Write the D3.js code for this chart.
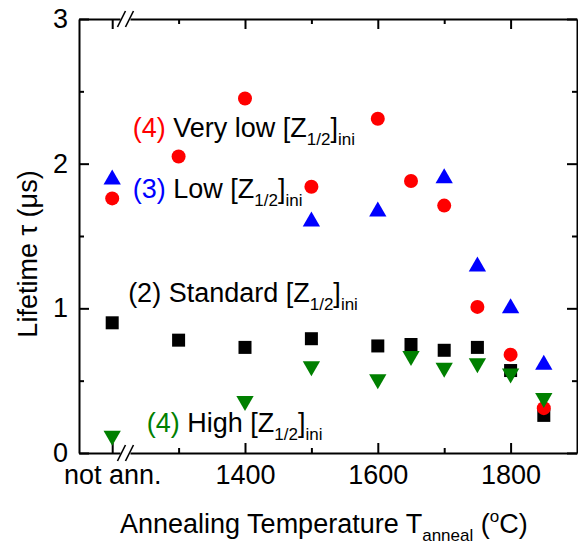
<!DOCTYPE html>
<html>
<head>
<meta charset="utf-8">
<script src="https://cdn.jsdelivr.net/npm/d3@7"></script>
<style>
  body { margin: 0; background: #fff; }
  svg { display: block; font-family: Arial, "Liberation Sans", sans-serif; }
</style>
</head>
<body>
<script>
// annealing temperatures, 1200 stands for the "not annealed" reference
const temps = [1200, 1300, 1400, 1500, 1600, 1650, 1700, 1750, 1800, 1850];

const standard = [0.90, 0.78, 0.73, 0.79, 0.74, 0.75, 0.71, 0.73, 0.57, 0.26];
const high = [0.12, null, 0.36, 0.60, 0.51, 0.67, 0.59, 0.62, 0.55, 0.38];
const veryLow = [1.76, 2.05, 2.45, 1.84, 2.31, 1.88, 1.71, 1.01, 0.68, 0.31];
const low = [1.89, null, null, 1.60, 1.67, null, 1.90, 1.29, 1.00, 0.61];

const xMajor = [1200, 1400, 1600, 1800];
const xMinor = [1300, 1500, 1700];
const xLabels = ["not ann.", "1400", "1600", "1800"];
const yMajor = [0, 1, 2, 3];
const yMinor = [0.5, 1.5, 2.5];
const xBreak = 1220;

const annotations = [
    { num: "(4)", color: "#ff0000", name: "Very low", x: 1231, y: 2.184 },
    { num: "(3)", color: "#0000ff", name: "Low", x: 1231, y: 1.763 },
    { num: "(2)", color: "#000000", name: "Standard", x: 1224, y: 1.044 },
    { num: "(4)", color: "#008000", name: "High", x: 1252, y: 0.147 }
];

const W = 578, H = 547;
const margin = { top: 19, right: 1, bottom: 94, left: 79 };
const fs = "27px", subFs = "17px";

const svg = d3.select("body").append("svg")
    .attr("width", W)
    .attr("height", H);

const x = d3.scaleLinear().domain([1150, 1900]).range([margin.left, W - margin.right]);
const y = d3.scaleLinear().domain([0, 3]).range([H - margin.bottom, margin.top]);

const major = 10, minor = 5;

function drawAxis(gen, pos, tv, fmt, size) {
    const g = svg.append("g")
        .attr("transform", pos)
        .call(gen.tickValues(tv).tickSizeInner(size).tickSizeOuter(0).tickFormat(fmt));
    g.select(".domain").attr("stroke", "#000").attr("stroke-width", 2);
    g.selectAll(".tick line").attr("stroke", "#000").attr("stroke-width", 2);
    g.selectAll(".tick text").attr("fill", "#000").style("font-size", fs);
    return g;
}

const bottomY = y(0), topY = y(3), leftX = x(1150), rightX = x(1900);

// bottom
drawAxis(d3.axisBottom(x).tickPadding(12), `translate(0,${bottomY})`, xMajor, (d, i) => xLabels[i], -major);
drawAxis(d3.axisBottom(x), `translate(0,${bottomY})`, xMinor, "", -minor).select(".domain").remove();
// top
drawAxis(d3.axisTop(x), `translate(0,${topY})`, xMajor, "", -major);
drawAxis(d3.axisTop(x), `translate(0,${topY})`, xMinor, "", -minor).select(".domain").remove();
// left
drawAxis(d3.axisLeft(y).tickPadding(11), `translate(${leftX},0)`, yMajor, d3.format("d"), -major);
drawAxis(d3.axisLeft(y), `translate(${leftX},0)`, yMinor, "", -minor).select(".domain").remove();
// right
drawAxis(d3.axisRight(y), `translate(${rightX},0)`, yMajor, "", -major);
drawAxis(d3.axisRight(y), `translate(${rightX},0)`, yMinor, "", -minor).select(".domain").remove();

// axis break marks
[bottomY, topY].forEach(yy => {
    const bx = x(xBreak);
    svg.append("rect")
        .attr("x", bx - 5).attr("y", yy - 3)
        .attr("width", 10).attr("height", 6)
        .attr("fill", "#fff");
    [-4, 4].forEach(off => {
        svg.append("line")
            .attr("x1", bx + off - 4).attr("y1", yy + 8)
            .attr("x2", bx + off + 4).attr("y2", yy - 8)
            .attr("stroke", "#000").attr("stroke-width", 1.6);
    });
});

function points(values) {
    return temps.map((t, i) => ({ t, v: values[i] })).filter(d => d.v != null);
}

// markers
svg.append("g").selectAll("rect")
    .data(points(standard)).enter().append("rect")
    .attr("x", d => x(d.t) - 6.5).attr("y", d => y(d.v) - 6.5)
    .attr("width", 13).attr("height", 13)
    .attr("fill", "#000");

svg.append("g").selectAll("circle")
    .data(points(veryLow)).enter().append("circle")
    .attr("cx", d => x(d.t)).attr("cy", d => y(d.v))
    .attr("r", 7)
    .attr("fill", "#ff0000");

const tri = d3.symbol().type(d3.symbolTriangle).size(130);

svg.append("g").selectAll("path")
    .data(points(low)).enter().append("path")
    .attr("d", tri)
    .attr("transform", d => `translate(${x(d.t)},${y(d.v)})`)
    .attr("fill", "#0000ff");

svg.append("g").selectAll("path")
    .data(points(high)).enter().append("path")
    .attr("d", tri)
    .attr("transform", d => `translate(${x(d.t)},${y(d.v)}) rotate(180)`)
    .attr("fill", "#008000");

// annotations
annotations.forEach(a => {
    const t = svg.append("text")
        .attr("x", x(a.x)).attr("y", y(a.y))
        .style("font-size", fs);
    t.append("tspan").attr("fill", a.color).text(a.num);
    t.append("tspan").text(` ${a.name} [Z`);
    t.append("tspan").attr("dy", 8).style("font-size", subFs).text("1/2");
    t.append("tspan").attr("dy", -8).text("]");
    t.append("tspan").attr("dy", 8).style("font-size", subFs).text("ini");
});

// axis titles
const xt = svg.append("text")
    .attr("x", 120).attr("y", 533)
    .style("font-size", fs);
xt.append("tspan").text("Annealing Temperature T");
xt.append("tspan").attr("dy", 8).style("font-size", subFs).text("anneal");
xt.append("tspan").attr("dy", -8).text(" (");
xt.append("tspan").attr("dy", -11).style("font-size", subFs).text("o");
xt.append("tspan").attr("dy", 11).text("C)");

svg.append("text")
    .attr("transform", `translate(37,254) rotate(-90)`)
    .attr("text-anchor", "middle")
    .style("font-size", fs)
    .text("Lifetime \u03c4 (\u03bcs)");
</script>
</body>
</html>
